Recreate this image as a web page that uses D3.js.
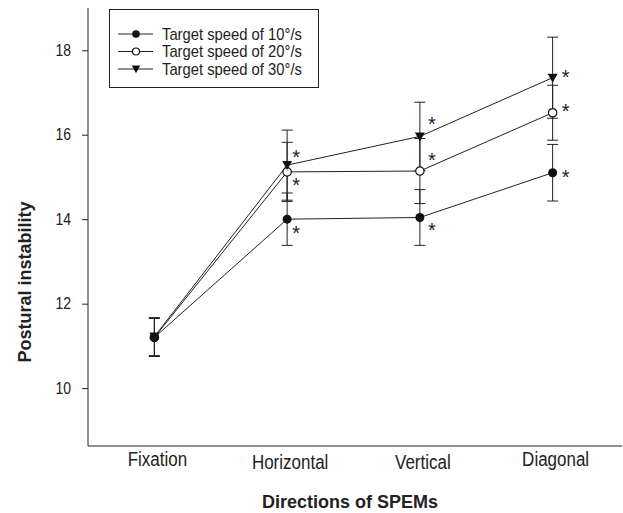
<!DOCTYPE html>
<html lang="en">
<head>
    <meta charset="UTF-8">
    <title>Postural instability</title>
    <script type="application/javascript" src="https://cdn.jsdelivr.net/npm/d3@7/dist/d3.min.js"></script>
    <style>
        body { margin: 0; background: #fff; }
        text { font-family: "Liberation Sans", Arial, sans-serif; fill: #222; }
    </style>
</head>
<body>
    <script type="application/javascript">
        // data
        var directions = ["Fixation", "Horizontal", "Vertical", "Diagonal"];
        var seriesNames = ["Target speed of 10\u00b0/s", "Target speed of 20\u00b0/s", "Target speed of 30\u00b0/s"];
        var speed10 = [11.20, 14.00, 14.04, 15.10];
        var speed20 = [11.20, 15.12, 15.14, 16.52];
        var speed30 = [11.22, 15.28, 15.96, 17.35];
        var err10 = [0.45, 0.62, 0.66, 0.67];
        var err20 = [0.45, 0.70, 0.77, 0.65];
        var err30 = [0.45, 0.83, 0.81, 0.96];
        var yTicks = [10, 12, 14, 16, 18];
        // which points carry a significance star
        var starred = [false, true, true, true];

        var width = 623,
            height = 513;

        var svg = d3.select("body").append("svg")
            .attr("width", width)
            .attr("height", height);

        var x = d3.scalePoint()
            .domain(directions)
            .range([88, 619])
            .padding(0.5);

        var y = d3.scaleLinear()
            .domain([8.63, 19.0])
            .range([446, 8]);

        // axes
        var yAxis = svg.append("g")
            .attr("transform", "translate(88,0)")
            .call(d3.axisLeft(y).tickValues(yTicks).tickSize(6).tickPadding(5).tickFormat(d3.format("d")));
        yAxis.select(".domain").attr("stroke", "#222").attr("d", "M0,8V446");
        yAxis.selectAll(".tick line").attr("stroke", "#222");
        yAxis.selectAll(".tick text")
            .style("font-size", "14px")
            .attr("fill", "#222")
            .attr("x", -17)
            .attr("dy", null)
            .attr("transform", "scale(1,1.22)")
            .attr("y", function (d) { return 5 / 1.22; });

        svg.append("line")
            .attr("x1", 88).attr("x2", 622)
            .attr("y1", 446).attr("y2", 446)
            .attr("stroke", "#222");

        svg.selectAll(".xlab")
            .data(directions)
            .enter().append("text")
            .attr("class", "xlab")
            .attr("text-anchor", "middle")
            .style("font-size", "17px")
            .attr("transform", function (d, i) {
                var by = (i == 1 || i == 2) ? 469 : 466;
                return "translate(" + (x(d) + 3) + "," + by + ") scale(1,1.15)";
            })
            .text(function (d) { return d; });

        svg.append("text")
            .attr("x", 350).attr("y", 508)
            .attr("text-anchor", "middle")
            .style("font-size", "18px").style("font-weight", "bold")
            .attr("fill", "#111")
            .text("Directions of SPEMs");

        svg.append("text")
            .attr("transform", "translate(31,282) rotate(-90)")
            .attr("text-anchor", "middle")
            .style("font-size", "18px").style("font-weight", "bold")
            .attr("fill", "#111")
            .text("Postural instability");

        var series = [
            { name: seriesNames[0], values: speed10, err: err10, marker: "filled" },
            { name: seriesNames[1], values: speed20, err: err20, marker: "open" },
            { name: seriesNames[2], values: speed30, err: err30, marker: "triangle" }
        ];

        // star placement next to each point (dx, dy per direction), per series
        var starOffsets = [
            [[0, 0], [9, 10], [12, 9], [13, 0]],
            [[0, 0], [9, 9], [12, -15], [13, -6]],
            [[0, 0], [9, -12], [12, -16], [13, -5]]
        ];

        var line = d3.line()
            .x(function (d) { return x(d.dir); })
            .y(function (d) { return y(d.v); });

        function drawMarker(g, type, r) {
            r = r || 4.5;
            if (type == "filled") {
                g.append("circle").attr("r", r).attr("fill", "#111");
            } else if (type == "open") {
                g.append("circle").attr("r", r - 0.3).attr("fill", "#fff").attr("stroke", "#111").attr("stroke-width", 1.2);
            } else {
                var k = r / 4.5;
                g.append("path").attr("d", "M" + (-5 * k) + "," + (-4 * k) + "L" + (5 * k) + "," + (-4 * k) + "L0," + (5 * k) + "Z").attr("fill", "#111");
            }
        }

        // error bars first
        series.forEach(function (s) {
            var pts = s.values.map(function (v, i) { return { dir: directions[i], v: v, e: s.err[i] }; });
            var eb = svg.append("g").selectAll("g").data(pts).enter().append("g");
            eb.append("line")
                .attr("x1", function (d) { return x(d.dir); })
                .attr("x2", function (d) { return x(d.dir); })
                .attr("y1", function (d) { return y(d.v - d.e); })
                .attr("y2", function (d) { return y(d.v + d.e); })
                .attr("stroke", "#222");
            [-1, 1].forEach(function (sgn) {
                eb.append("line")
                    .attr("x1", function (d) { return x(d.dir) - 5.5; })
                    .attr("x2", function (d) { return x(d.dir) + 5.5; })
                    .attr("y1", function (d) { return y(d.v + sgn * d.e); })
                    .attr("y2", function (d) { return y(d.v + sgn * d.e); })
                    .attr("stroke", "#222");
            });
        });

        series.forEach(function (s) {
            var pts = s.values.map(function (v, i) { return { dir: directions[i], v: v }; });
            svg.append("path")
                .datum(pts)
                .attr("d", line)
                .attr("fill", "none")
                .attr("stroke", "#222")
                .attr("stroke-width", 1);
        });

        // markers: open circles under the filled ones, triangles on top
        [1, 0, 2].forEach(function (si) {
            var s = series[si];
            var pts = s.values.map(function (v, i) { return { dir: directions[i], v: v, i: i }; });
            var m = svg.append("g").selectAll("g").data(pts).enter().append("g")
                .attr("transform", function (d) { return "translate(" + x(d.dir) + "," + y(d.v) + ")"; });
            m.each(function () { drawMarker(d3.select(this), s.marker); });

            svg.append("g").selectAll("text")
                .data(pts.filter(function (d) { return starred[d.i]; }))
                .enter().append("text")
                .attr("x", function (d) { return x(d.dir) + starOffsets[si][d.i][0]; })
                .attr("y", function (d) { return y(d.v) + starOffsets[si][d.i][1] + 11; })
                .attr("text-anchor", "middle")
                .style("font-size", "20px")
                .attr("fill", "#333")
                .text("*");
        });

        // legend
        var legend = svg.append("g");
        legend.append("rect")
            .attr("x", 109.5).attr("y", 9.5)
            .attr("width", 209).attr("height", 78)
            .attr("fill", "#fff")
            .attr("stroke", "#222");
        var item = legend.selectAll(".item")
            .data(series)
            .enter().append("g")
            .attr("class", "item")
            .attr("transform", function (d, i) { return "translate(0," + (34 + i * 17.5) + ")"; });
        item.append("line")
            .attr("x1", 118).attr("x2", 153)
            .attr("stroke", "#222");
        item.append("g")
            .attr("transform", "translate(136,0)")
            .each(function (d) { drawMarker(d3.select(this), d.marker, 3.8); });
        item.append("text")
            .attr("transform", "translate(162,5.5) scale(1,1.08)")
            .style("font-size", "14.8px")
            .text(function (d) { return d.name; });
    </script>
</body>
</html>
